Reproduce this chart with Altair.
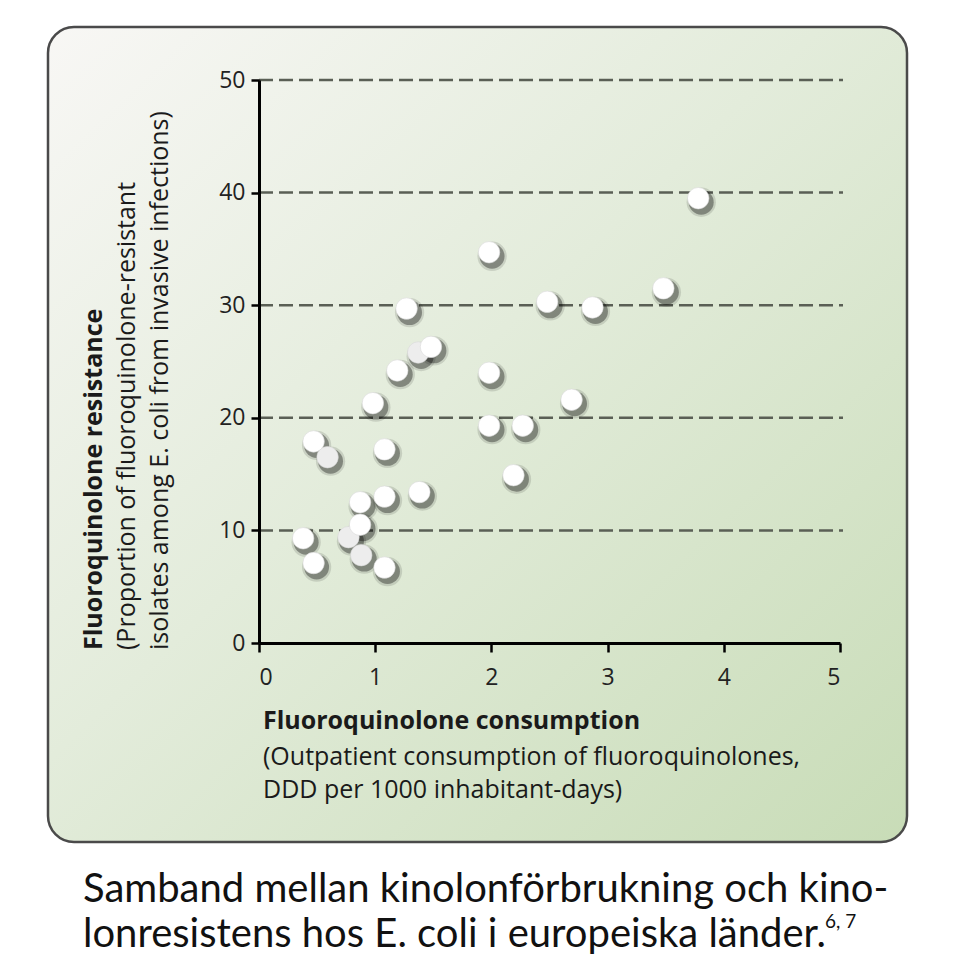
import altair as alt
import pandas as pd

# Data
consumption = [1.37, 0.77, 0.88, 0.59,
               3.78, 1.98, 3.48, 2.48, 2.87, 1.27, 1.48, 1.19, 1.98, 0.98, 2.69,
               1.98, 2.27, 0.47, 1.08, 2.19, 1.38, 1.08, 0.87, 0.87, 0.38, 0.47, 1.08]
resistance = [25.8, 9.4, 7.8, 16.5,
              39.5, 34.7, 31.5, 30.3, 29.8, 29.7, 26.3, 24.2, 24.0, 21.3, 21.6,
              19.3, 19.3, 17.9, 17.2, 14.9, 13.4, 13.0, 12.5, 10.5, 9.3, 7.1, 6.7]
depth = ["back"] * 4 + ["front"] * 23

x_ticks = [0, 1, 2, 3, 4, 5]
y_ticks = [0, 10, 20, 30, 40, 50]
grid_values = [10, 20, 30, 40, 50]

x_title = ["Fluoroquinolone consumption",
           "(Outpatient consumption of fluoroquinolones,",
           "DDD per 1000 inhabitant-days)"]
y_title = ["Fluoroquinolone resistance",
           "(Proportion of fluoroquinolone-resistant",
           "isolates among E. coli from invasive infections)"]
caption = ["Samband mellan kinolonförbrukning och kino-",
           "lonresistens hos E. coli i europeiska länder."]
superscript = "6, 7"

df = pd.DataFrame({"x": consumption, "y": resistance, "depth": depth})
grid_df = pd.DataFrame({"y": grid_values})
one = pd.DataFrame({"a": [0]})

FONT = "Open Sans"
CAP_FONT = "Lato"
W, H = 581, 563

panel = alt.Chart(one).mark_rect(
    cornerRadius=26,
    stroke="#4a4a4a",
    strokeWidth=2.5,
    fill=alt.Gradient(
        gradient="linear", x1=0, y1=0, x2=1, y2=1,
        stops=[alt.GradientStop(offset=0, color="#f8f7f5"),
               alt.GradientStop(offset=0.45, color="#e3ecdb"),
               alt.GradientStop(offset=1, color="#c8dcb7")],
    ),
).encode(x=alt.value(-211), x2=alt.value(648), y=alt.value(-53), y2=alt.value(762))

yscale = alt.Scale(domain=[0, 50], nice=False)
xscale = alt.Scale(domain=[0, 5], nice=False)

grid = alt.Chart(grid_df).mark_rule(
    color="#5a5f55", strokeWidth=2.5, strokeDash=[14, 6]
).encode(y=alt.Y("y:Q", scale=yscale), x=alt.value(0), x2=alt.value(W + 3))

xs = alt.X("x:Q", scale=xscale,
           axis=alt.Axis(values=x_ticks, title=None, grid=False, labelPadding=14,
                         tickSize=9, format="d", zindex=1))
ys = alt.Y("y:Q", scale=yscale,
           axis=alt.Axis(values=y_ticks, title=None, grid=False, labelPadding=6,
                         tickSize=8, format="d", zindex=1))

shadow2 = alt.Chart(df).mark_circle(size=860, color="#000000", opacity=0.12,
                                    xOffset=3, yOffset=4).encode(x=xs, y=ys)
shadow1 = alt.Chart(df).mark_circle(size=620, color="#000000", opacity=0.35,
                                    xOffset=3, yOffset=4).encode(x="x:Q", y="y:Q")
dots = alt.Chart(df).mark_circle(size=460, opacity=1, stroke="#d8d8d8",
                                 strokeWidth=0.6).encode(
    x="x:Q", y="y:Q",
    color=alt.Color("depth:N", scale=alt.Scale(domain=["back", "front"],
                                               range=["#ededed", "#ffffff"]),
                    legend=None),
)

def txt(s, x, y, size, bold=False, angle=0, color="#1a1a1a", font=FONT):
    return alt.Chart(one).mark_text(
        text=s, align="left", baseline="alphabetic", fontSize=size,
        fontWeight="bold" if bold else "normal", angle=angle, font=font,
        color=color,
    ).encode(x=alt.value(x), y=alt.value(y))

texts = [
    txt(x_title[0], 4, 649, 25, bold=True),
    txt(x_title[1], 4, 685, 25),
    txt(x_title[2], 4, 718, 25),
    txt(y_title[0], -157, 570, 25, bold=True, angle=270),
    txt(y_title[1], -124, 570, 25, angle=270),
    txt(y_title[2], -91, 570, 25, angle=270),
    txt(caption[0], -176, 822, 40, color="#111111", font=CAP_FONT),
    txt(caption[1], -176, 867, 40, color="#111111", font=CAP_FONT),
    txt(superscript, 566, 848, 19, color="#111111", font=CAP_FONT),
]

chart = alt.layer(panel, grid, shadow2, shadow1, dots, *texts).properties(
    width=W, height=H,
    autosize=alt.AutoSizeParams(type="none"),
    padding={"left": 251, "top": 72, "right": 110, "bottom": 340},
    background="#ffffff",
).configure_view(stroke=None).configure_axis(
    domainColor="#000000", domainWidth=3,
    tickColor="#000000", tickWidth=2.5,
    labelFont=FONT, labelFontSize=23, labelColor="#222222",
)

chart.save("out.html", embed_options={"renderer": "svg", "actions": False})
